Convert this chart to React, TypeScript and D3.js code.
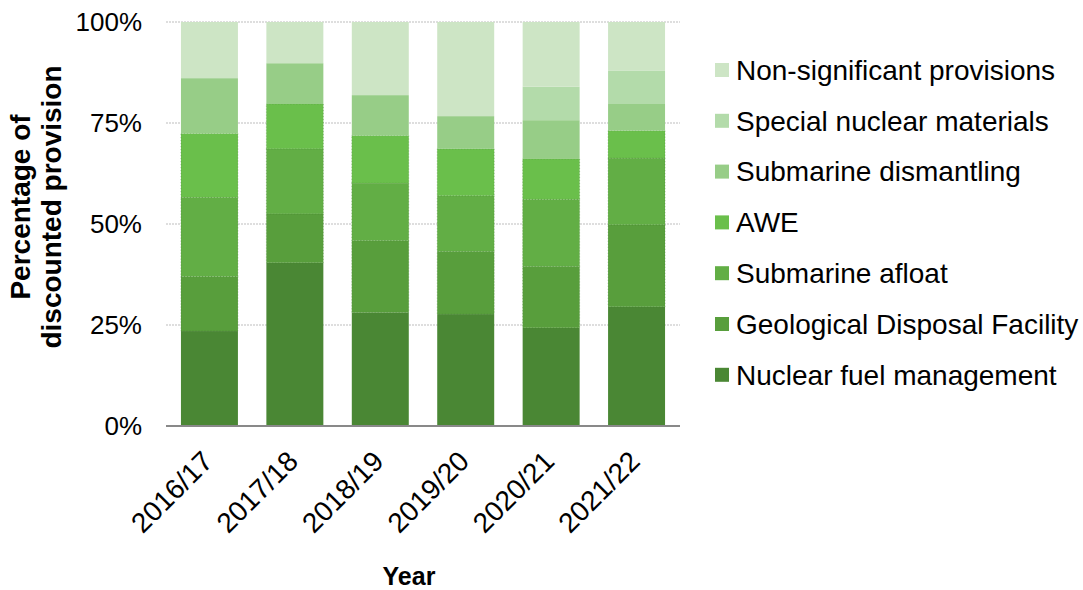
import React from 'react';
import * as d3 from 'd3';

const years = ['2016/17', '2017/18', '2018/19', '2019/20', '2020/21', '2021/22'];
const nuclearFuel = [23.5, 40.4, 28.1, 27.7, 24.3, 29.5];
const geological = [13.5, 12.1, 17.8, 15.5, 15.2, 20.3];
const subAfloat = [19.6, 16.1, 14.2, 13.8, 16.6, 16.5];
const awe = [15.8, 11.1, 11.8, 11.6, 10.0, 6.8];
const subDismantling = [13.7, 10.1, 10.0, 8.1, 9.6, 6.6];
const specialNuclear = [0, 0, 0, 0, 8.3, 8.2];
const nonSignificant = [13.9, 10.2, 18.1, 23.3, 16.0, 12.1];
const yTicks = [0, 0.25, 0.5, 0.75, 1];

const seriesNames = [
  'Nuclear fuel management',
  'Geological Disposal Facility',
  'Submarine afloat',
  'AWE',
  'Submarine dismantling',
  'Special nuclear materials',
  'Non-significant provisions',
];
const seriesValues = [nuclearFuel, geological, subAfloat, awe, subDismantling, specialNuclear, nonSignificant];
const colors = ['#4a8734', '#589e3c', '#62ae45', '#6abf4b', '#97cd87', '#b3dbaa', '#cde5c5'];
const dotted = [false, true, true, true, false, false, false];

const FONT = '"Liberation Sans", Arial, sans-serif';

export default function App() {
  const W = 1083;
  const H = 590;
  const x = d3.scaleBand<string>().domain(years).range([166, 680]).paddingInner(0.333).paddingOuter(0.175);
  const y = d3.scaleLinear().domain([0, 1]).range([426, 22]);

  const rows = years.map((yr, i) => {
    const r: any = { year: yr };
    seriesNames.forEach((s, k) => (r[s] = seriesValues[k][i]));
    return r;
  });
  const stack = d3.stack<any>().keys(seriesNames).offset(d3.stackOffsetExpand);
  const stacked = stack(rows);

  const legendOrder = seriesNames.map((_, i) => i).reverse();

  return (
    <svg width={W} height={H} style={{ position: 'absolute', left: 0, top: 0, background: '#fff' }} fontFamily={FONT}>
      {/* gridlines */}
      {yTicks.slice(1).map((t) => (
        <line key={t} x1={166} x2={680} y1={y(t)} y2={y(t)} stroke="#d4d4d4" strokeWidth={1.5} strokeDasharray="2,1" />
      ))}
      {/* bars */}
      {stacked.map((layer, k) => (
        <g key={layer.key}>
          {layer.map((d, i) => {
            const h = y(d[0]) - y(d[1]);
            if (h <= 0.01) return null;
            return (
              <rect
                key={i}
                x={x(years[i])}
                y={y(d[1])}
                width={x.bandwidth()}
                height={h}
                fill={colors[k]}
                stroke={dotted[k] ? '#3f7a2c' : 'none'}
                strokeOpacity={0.5}
                strokeWidth={dotted[k] ? 0.8 : 0}
                strokeDasharray="1,2"
              />
            );
          })}
        </g>
      ))}
      {/* x axis line */}
      <line x1={166} x2={680} y1={y(0)} y2={y(0)} stroke="#898989" strokeWidth={2} />
      {/* y ticks */}
      {yTicks.map((t) => (
        <text key={t} x={142} y={y(t)} dy="0.35em" textAnchor="end" fontSize={26} fill="#000">
          {d3.format('.0%')(t)}
        </text>
      ))}
      {/* x ticks */}
      {years.map((yr) => {
        const cx = (x(yr) as number) + x.bandwidth() / 2;
        const ax = cx + 5;
        const ay = 463;
        return (
          <text key={yr} x={ax} y={ay} textAnchor="end" fontSize={28} fill="#000" transform={`rotate(-45 ${ax} ${ay})`}>
            {yr}
          </text>
        );
      })}
      {/* axis titles */}
      <text x={409} y={585} textAnchor="middle" fontSize={25} fontWeight="bold" fill="#000">
        Year
      </text>
      <g transform="translate(0,207) rotate(-90)">
        <text x={0} y={30} textAnchor="middle" fontSize={28} fontWeight="bold" fill="#000">
          Percentage of
        </text>
        <text x={0} y={61} textAnchor="middle" fontSize={28} fontWeight="bold" fill="#000">
          discounted provision
        </text>
      </g>
      {/* legend */}
      {legendOrder.map((k, j) => {
        const cy = 70 + j * 50.8;
        return (
          <g key={k}>
            <rect x={715} y={cy - 7} width={14} height={14} fill={colors[k]} />
            <text x={736} y={cy} dy="0.35em" fontSize={28} fill="#000">
              {seriesNames[k]}
            </text>
          </g>
        );
      })}
    </svg>
  );
}
